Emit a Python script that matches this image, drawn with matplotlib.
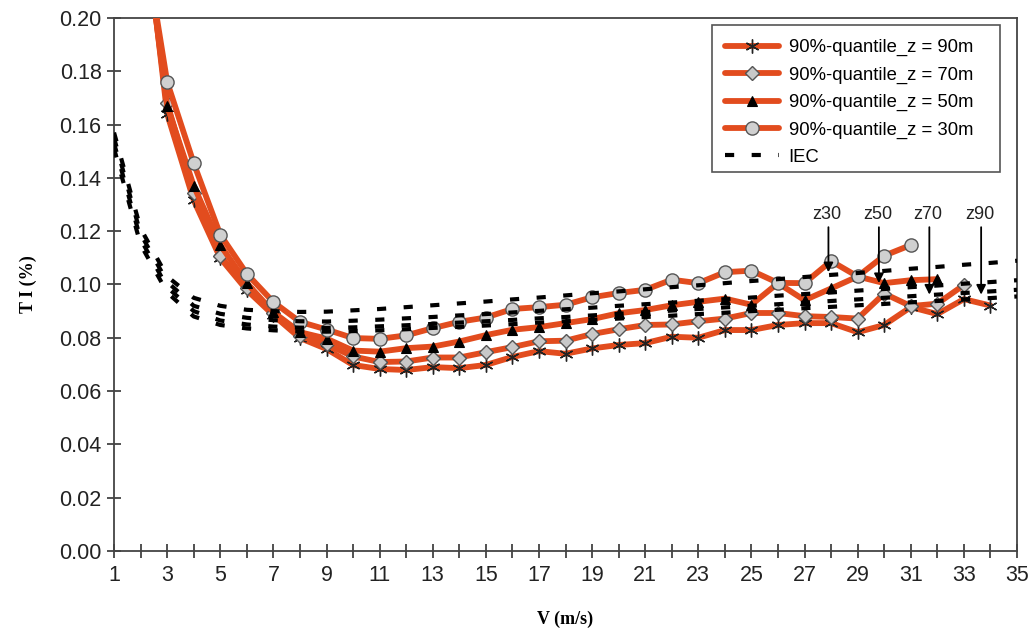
import matplotlib
matplotlib.use("Agg")
import matplotlib.pyplot as plt
from matplotlib.patches import Rectangle
import numpy as np

# wind speed bins (m/s)
V = np.arange(1, 36)

# 90%-quantile TI per height (start at V=2)
V_z90 = np.arange(2, 35)
ti_z90 = [0.250, 0.164, 0.1316, 0.1099, 0.0979, 0.0885, 0.0799, 0.0758, 0.0698, 0.0683,
          0.0679, 0.0690, 0.0686, 0.0698, 0.0728, 0.0750, 0.0740, 0.0760, 0.0773, 0.0780,
          0.0804, 0.0800, 0.0829, 0.0829, 0.0848, 0.0855, 0.0855, 0.0821, 0.0848, 0.0915,
          0.0889, 0.0945, 0.0921]

V_z70 = np.arange(2, 34)
ti_z70 = [0.245, 0.168, 0.1343, 0.1108, 0.0986, 0.0892, 0.0806, 0.0776, 0.0730, 0.0709,
          0.0711, 0.0726, 0.0726, 0.0746, 0.0765, 0.0787, 0.0789, 0.0814, 0.0832, 0.0848,
          0.0850, 0.0862, 0.0872, 0.0893, 0.0893, 0.0881, 0.0878, 0.0872, 0.0966, 0.0919,
          0.0928, 0.0998]

V_z50 = np.arange(2, 33)
ti_z50 = [0.245, 0.167, 0.1370, 0.1148, 0.1005, 0.0896, 0.0821, 0.0797, 0.0752, 0.0748,
          0.0761, 0.0767, 0.0786, 0.0810, 0.0830, 0.0840, 0.0855, 0.0870, 0.0892, 0.0904,
          0.0922, 0.0935, 0.0947, 0.0924, 0.1005, 0.0941, 0.0985, 0.1030, 0.1005, 0.1016,
          0.1020]

V_z30 = np.arange(2, 32)
ti_z30 = [0.238, 0.176, 0.1455, 0.1187, 0.1040, 0.0934, 0.0860, 0.0831, 0.0799, 0.0796,
          0.0809, 0.0836, 0.0860, 0.0876, 0.0908, 0.0915, 0.0924, 0.0952, 0.0968, 0.0980,
          0.1018, 0.1005, 0.1046, 0.1052, 0.1006, 0.1005, 0.1088, 0.1030, 0.1108, 0.1148]

# IEC reference curves (four dashed lines), V = 1..35
iec_1 = [0.157, 0.121, 0.103, 0.095, 0.092, 0.0905, 0.0900, 0.0897, 0.0898, 0.0903,
         0.0908, 0.0915, 0.0922, 0.0929, 0.0936, 0.0944, 0.0951, 0.0959, 0.0967, 0.0974,
         0.0982, 0.0990, 0.0997, 0.1005, 0.1013, 0.1020, 0.1028, 0.1036, 0.1043, 0.1051,
         0.1059, 0.1066, 0.1074, 0.1081, 0.1089]
iec_2 = [0.155, 0.119, 0.101, 0.092, 0.089, 0.0875, 0.0866, 0.0862, 0.0861, 0.0864,
         0.0868, 0.0873, 0.0878, 0.0884, 0.0889, 0.0895, 0.0901, 0.0907, 0.0913, 0.0920,
         0.0926, 0.0932, 0.0939, 0.0945, 0.0951, 0.0958, 0.0964, 0.0970, 0.0977, 0.0983,
         0.0990, 0.0996, 0.1003, 0.1009, 0.1016]
iec_3 = [0.153, 0.117, 0.099, 0.090, 0.0865, 0.0850, 0.0842, 0.0838, 0.0837, 0.0839,
         0.0843, 0.0847, 0.0852, 0.0857, 0.0862, 0.0867, 0.0873, 0.0878, 0.0884, 0.0890,
         0.0896, 0.0902, 0.0908, 0.0914, 0.0920, 0.0926, 0.0932, 0.0938, 0.0944, 0.0950,
         0.0956, 0.0962, 0.0968, 0.0974, 0.0980]
iec_4 = [0.151, 0.115, 0.097, 0.088, 0.0848, 0.0835, 0.0828, 0.0824, 0.0823, 0.0825,
         0.0828, 0.0832, 0.0837, 0.0841, 0.0846, 0.0851, 0.0857, 0.0862, 0.0867, 0.0872,
         0.0878, 0.0883, 0.0889, 0.0894, 0.0900, 0.0905, 0.0911, 0.0916, 0.0922, 0.0927,
         0.0933, 0.0938, 0.0944, 0.0949, 0.0955]

# arrow labels: text, x position, arrow tip value
arrow_names = ["z30", "z50", "z70", "z90"]
arrow_x = [27.9, 29.8, 31.7, 33.65]
arrow_tip = [0.1046, 0.1005, 0.0962, 0.0962]

RED = "#e24c1e"
plt.rcParams["font.family"] = ["Liberation Sans", "DejaVu Sans"]

fig = plt.figure(figsize=(10.33, 6.35), dpi=100)
ax = fig.add_axes([0.1104, 0.1323, 0.8741, 0.8394])

line_kw = dict(color=RED, lw=4.2, solid_capstyle="round", solid_joinstyle="round")
ax.plot(V_z90, ti_z90, marker=(6, 2, 0), ms=10, mec="#222222", mew=1.0,
        label="90%-quantile_z = 90m", zorder=3, **line_kw)
ax.plot(V_z70, ti_z70, marker="D", ms=7.5, mfc="#c8c8c8", mec="#555555", mew=1.0,
        label="90%-quantile_z = 70m", zorder=3, **line_kw)
ax.plot(V_z50, ti_z50, marker="^", ms=7.5, mfc="black", mec="black", mew=0.8,
        label="90%-quantile_z = 50m", zorder=3, **line_kw)
ax.plot(V_z30, ti_z30, marker="o", ms=9.5, mfc="#d0d0d0", mec="#555555", mew=1.0,
        label="90%-quantile_z = 30m", zorder=3, **line_kw)

# IEC dashes drawn over the coloured lines
iec_kw = dict(color="black", lw=3.0, dashes=(2.2, 4.2), dash_capstyle="butt", zorder=4)
ax.plot(V, iec_1, label="IEC", **iec_kw)
ax.plot(V, iec_2, **iec_kw)
ax.plot(V, iec_3, **iec_kw)
ax.plot(V, iec_4, **iec_kw)

for name, x, tip in zip(arrow_names, arrow_x, arrow_tip):
    ax.annotate("", xy=(x, tip), xytext=(x, 0.1215),
                arrowprops=dict(arrowstyle="-|>", color="black", lw=1.3,
                                mutation_scale=14, shrinkA=0, shrinkB=0), zorder=5)
    ax.text(x - 0.05, 0.1262, name, ha="center", va="center", fontsize=13, color="#222222")

ax.set_xlim(1, 35)
ax.set_ylim(0, 0.20)
ax.set_xticks(np.arange(1, 36, 2))
ax.set_xticks(np.arange(2, 36, 2), minor=True)
ax.set_yticks(np.arange(0, 0.201, 0.02))
ax.set_yticklabels(["%.2f" % t for t in np.arange(0, 0.201, 0.02)])
ax.tick_params(axis="both", which="both", direction="inout", length=10, width=1.2,
               color="#333333", labelsize=15.5, labelcolor="#222222")
ax.tick_params(axis="x", pad=5)
ax.tick_params(axis="y", pad=4)
for s in ax.spines.values():
    s.set_color("#444444")
    s.set_linewidth(1.3)

ax.set_xlabel("V (m/s)", fontsize=13, fontweight="bold", family="Liberation Serif")
ax.xaxis.set_label_coords(0.5, -0.112)
ax.set_ylabel("T I (%)", fontsize=13, fontweight="bold", family="Liberation Serif",
              va="center")
ax.yaxis.set_label_coords(-0.095, 0.5)

# legend box drawn separately (Excel leaves extra room on the right)
ax.add_patch(Rectangle((0.6622, 0.7111), 0.319, 0.2758, transform=ax.transAxes,
                       facecolor="white", edgecolor="#555555", lw=1.2, zorder=6))
leg = ax.legend(loc="upper left", bbox_to_anchor=(0.6766, 0.960), borderaxespad=0,
                borderpad=0, fontsize=13.3, handlelength=2.9, handletextpad=0.55,
                labelspacing=0.55, frameon=False)
leg.set_zorder(7)

fig.savefig("out.png", dpi=100)
